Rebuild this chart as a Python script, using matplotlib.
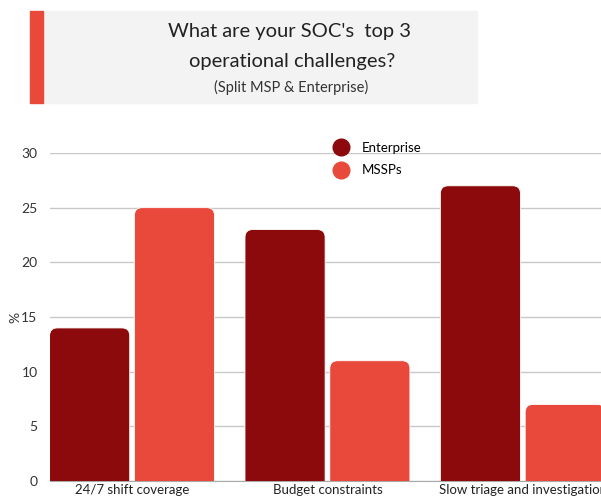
import matplotlib.pyplot as plt
from matplotlib.patches import FancyBboxPatch, Rectangle
from matplotlib.lines import Line2D
import numpy as np

plt.rcParams['font.family'] = ['Lato', 'DejaVu Sans']

categories = ['24/7 shift coverage', 'Budget constraints', 'Slow triage and investigation']
enterprise = [14, 23, 27]
mssps = [25, 11, 7]
series_names = ['Enterprise', 'MSSPs']
dark_red = '#8c0a0b'
red = '#e8493a'

fig = plt.figure(figsize=(6.01, 5.01), dpi=100)

# title box
fig.patches.append(Rectangle((43 / 601, 1 - 103 / 501), 434 / 601, 92 / 501,
                             transform=fig.transFigure, color='#f3f3f3', zorder=0))
fig.patches.append(Rectangle((30 / 601, 1 - 103 / 501), 13 / 601, 92 / 501,
                             transform=fig.transFigure, color=red, zorder=1))
fig.text(290 / 601, 1 - 32 / 501, "What are your SOC's  top 3", ha='center', va='center',
         fontsize=14.5, color='#222222')
fig.text(292 / 601, 1 - 61 / 501, "operational challenges?", ha='center', va='center',
         fontsize=14.5, color='#222222')
fig.text(291 / 601, 1 - 87 / 501, "(Split MSP & Enterprise)", ha='center', va='center',
         fontsize=10.5, color='#333333')

ax = fig.add_axes([50 / 601, 1 - 481 / 501, 551 / 601, 328 / 501])
x = np.arange(len(categories))
w = 0.41
bars1 = ax.bar(x - 0.217, enterprise, w, color=dark_red)
bars2 = ax.bar(x + 0.217, mssps, w, color=red)

ax.set_xlim(-0.42, 2.40)
ax.set_ylim(0, 30)

# swap plain bars for ones with rounded tops
r = 0.04
aspect = (195.5 / 10.93)
for bars in (bars1, bars2):
    for b in bars:
        fc = b.get_facecolor()
        p = FancyBboxPatch((b.get_x(), -2), b.get_width(), b.get_height() + 2,
                           boxstyle=f'round,pad=0,rounding_size={r}',
                           mutation_aspect=aspect, facecolor=fc, edgecolor='white',
                           linewidth=0.6, zorder=3)
        ax.add_patch(p)
        b.remove()

ax.set_yticks([0, 5, 10, 15, 20, 25, 30])
ax.yaxis.grid(True, color='#c8c8c8', linewidth=1)
ax.set_axisbelow(True)
ax.set_xticks(x)
ax.set_xticklabels(categories, fontsize=9.5, color='#222222')
ax.tick_params(axis='y', labelsize=10, colors='#333333', length=0, pad=9)
ax.tick_params(axis='x', length=0, pad=2)
for s in ['top', 'right', 'left']:
    ax.spines[s].set_visible(False)
ax.spines['bottom'].set_color('#aaaaaa')
ax.set_ylabel('%', fontsize=10, color='#333333')
ax.yaxis.set_label_coords(-0.052, 0.5)

handles = [Line2D([], [], marker='o', linestyle='', markersize=12, color=c)
           for c in (dark_red, red)]
fig.legend(handles, series_names, loc='upper left',
           bbox_to_anchor=(316 / 601, 1 - 130 / 501), frameon=False, fontsize=9.5,
           labelspacing=0.8, handletextpad=0.6)

fig.savefig('out.png', dpi=100)
